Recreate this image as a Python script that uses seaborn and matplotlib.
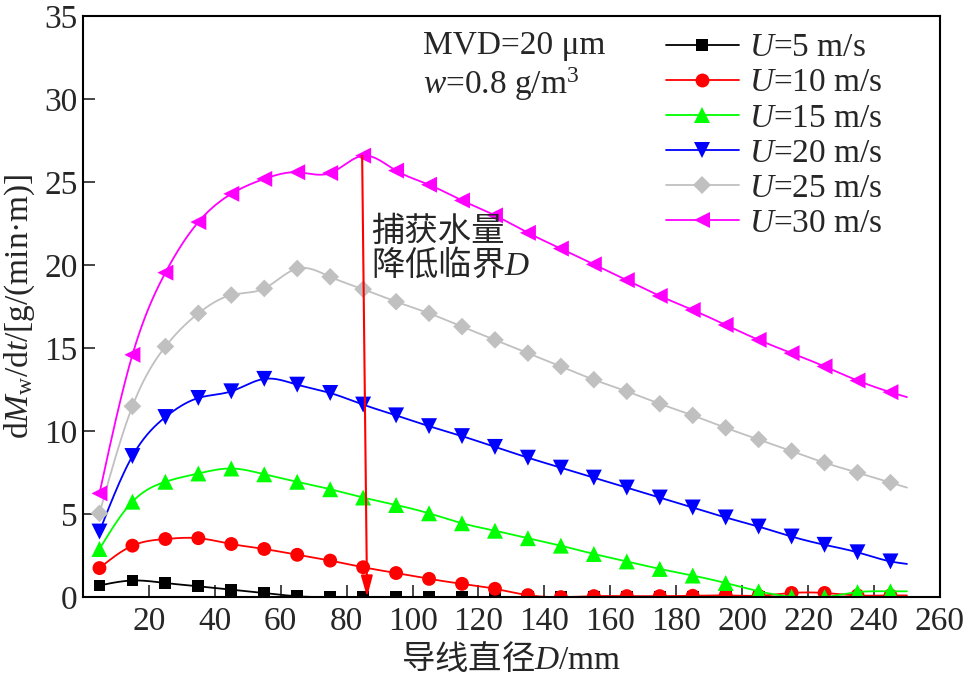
import numpy as np
import pandas as pd
import seaborn as sns
import matplotlib
matplotlib.use("Agg")
import matplotlib.pyplot as plt
from matplotlib.lines import Line2D

# ---------------- data ----------------
D = [5, 15, 25, 35, 45, 55, 65, 75, 85, 95, 105, 115, 125, 135, 145,
     155, 165, 175, 185, 195, 205, 215, 225, 235, 245, 250]

U5 = [0.7, 1.0, 0.85, 0.65, 0.45, 0.25, 0.05, 0.0, 0.0, 0.0, 0.0, 0.0, 0.0,
      0.0, 0.0, 0.0, 0.0, 0.0, 0.0, 0.0, 0.0, 0.0, 0.0, 0.0, 0.0, 0.0]
U10 = [1.75, 3.1, 3.5, 3.55, 3.2, 2.9, 2.55, 2.2, 1.8, 1.45, 1.1, 0.8, 0.5,
       0.12, 0.0, 0.06, 0.06, 0.06, 0.08, 0.1, 0.08, 0.25, 0.25, 0.1, 0.1, 0.1]
U15 = [2.9, 5.75, 6.95, 7.45, 7.75, 7.4, 6.95, 6.5, 6.0, 5.55, 5.05, 4.45, 4.0,
       3.55, 3.1, 2.6, 2.15, 1.7, 1.3, 0.85, 0.35, 0.02, 0.0, 0.3, 0.35, 0.35]
U20 = [3.95, 8.5, 10.85, 12.0, 12.4, 13.15, 12.8, 12.3, 11.6, 10.95, 10.3, 9.7,
       9.05, 8.4, 7.8, 7.2, 6.6, 6.0, 5.4, 4.8, 4.25, 3.65, 3.15, 2.7, 2.15, 2.0]
U25 = [5.05, 11.5, 15.1, 17.1, 18.2, 18.6, 19.8, 19.3, 18.55, 17.8, 17.1, 16.3,
       15.5, 14.7, 13.9, 13.1, 12.4, 11.65, 10.95, 10.2, 9.5, 8.8, 8.1, 7.5, 6.9, 6.6]
U30 = [6.25, 14.6, 19.55, 22.6, 24.3, 25.2, 25.6, 25.55, 26.6, 25.7, 24.85, 23.9,
       23.0, 21.95, 21.0, 20.05, 19.1, 18.15, 17.3, 16.4, 15.5, 14.7, 13.9, 13.05,
       12.35, 12.05]

labels = [r"$U$=5 m/s", r"$U$=10 m/s", r"$U$=15 m/s",
          r"$U$=20 m/s", r"$U$=25 m/s", r"$U$=30 m/s"]
xticks = [20, 40, 60, 80, 100, 120, 140, 160, 180, 200, 220, 240, 260]
yticks = [0, 5, 10, 15, 20, 25, 30, 35]

series = [U5, U10, U15, U20, U25, U30]
colors = ["#000000", "#FF0000", "#00FF00", "#0000FF", "#C0C0C0", "#FF00FF"]
markers = ["s", "o", "^", "v", "D", "<"]
msizes = [8.5, 10.0, 11.5, 11.5, 9.0, 11.5]


def natural_spline(x, y, per=20):
    x = np.asarray(x, float)
    y = np.asarray(y, float)
    n = len(x)
    h = np.diff(x)
    A = np.zeros((n, n))
    b = np.zeros(n)
    A[0, 0] = 1.0
    A[-1, -1] = 1.0
    for i in range(1, n - 1):
        A[i, i - 1] = h[i - 1]
        A[i, i] = 2 * (h[i - 1] + h[i])
        A[i, i + 1] = h[i]
        b[i] = 6 * ((y[i + 1] - y[i]) / h[i] - (y[i] - y[i - 1]) / h[i - 1])
    M = np.linalg.solve(A, b)
    xs, ys = [], []
    for i in range(n - 1):
        t = np.linspace(x[i], x[i + 1], per, endpoint=(i == n - 2))
        a = x[i + 1] - t
        c = t - x[i]
        s = (M[i] * a ** 3 + M[i + 1] * c ** 3) / (6 * h[i]) \
            + (y[i] / h[i] - M[i] * h[i] / 6) * a \
            + (y[i + 1] / h[i] - M[i + 1] * h[i] / 6) * c
        xs.append(t)
        ys.append(s)
    return np.concatenate(xs), np.concatenate(ys)


# ---------------- style ----------------
sns.set_style("ticks")
plt.rcParams["font.family"] = ["Liberation Serif", "Noto Sans CJK SC", "DejaVu Sans"]
plt.rcParams["mathtext.fontset"] = "custom"
plt.rcParams["mathtext.rm"] = "Liberation Serif"
plt.rcParams["mathtext.it"] = "Liberation Serif:italic"
plt.rcParams["mathtext.bf"] = "Liberation Serif:bold"
plt.rcParams["axes.unicode_minus"] = False

FS = 24

fig = plt.figure(figsize=(9.65, 6.77), dpi=100)
ax = fig.add_axes([0.086, 0.118, 0.888, 0.858])

for i, (vals, c, m, ms) in enumerate(zip(series, colors, markers, msizes)):
    xs, ys = natural_spline(D, vals)
    sns.lineplot(x=xs, y=ys, ax=ax, color=c, linewidth=1.3, sort=False,
                 estimator=None, legend=False, zorder=2 + 0.1 * i)
    sns.scatterplot(x=D[:-1], y=vals[:-1], ax=ax, marker=m, s=ms ** 2, color=c,
                    linewidth=0, edgecolor="none", legend=False, zorder=2.05 + 0.1 * i)

ax.set_xlim(0, 260)
ax.set_ylim(0, 35)
ax.set_xticks(xticks)
ax.set_yticks(yticks)
ax.set_xticklabels([str(v) for v in xticks])
ax.set_yticklabels([str(v) for v in yticks])
ax.tick_params(axis="both", direction="in", length=8.5, width=1.2,
               labelsize=FS, top=False, right=False)
ax.tick_params(axis="x", pad=7)
ax.tick_params(axis="y", pad=4)
for sp in ax.spines.values():
    sp.set_visible(True)
    sp.set_linewidth(1.5)
    sp.set_color("black")
ax.set_xlabel("")
ax.set_ylabel("")

# axis labels
ax.text(0.4995, -0.077, "导线直径$D/\\mathrm{mm}$", transform=ax.transAxes,
        ha="center", va="top", fontsize=FS, fontfamily="Noto Sans CJK SC")
fig.text(20 / 965, 1 - 306 / 677, r"d$M_{\mathrm{w}}$/d$t$/[g/(min·m)]",
         rotation=90, ha="center", va="center", fontsize=FS)

# annotations
ax.text(0.397, 0.975, "MVD=20 μm", transform=ax.transAxes, ha="left", va="top",
        fontsize=FS)
ax.text(0.397, 0.915, r"$w$=0.8 g/m$^3$", transform=ax.transAxes, ha="left",
        va="top", fontsize=FS)

ax.text(87.5, 23.1, "捕获水量\n降低临界$D$", ha="left", va="top", fontsize=FS,
        fontfamily="Noto Sans CJK SC", linespacing=0.95)

ax.annotate("", xy=(86.2, 0.0), xytext=(84.7, 26.6),
            arrowprops=dict(arrowstyle="-|>,head_length=0.8,head_width=0.22",
                            color="#FF0000", lw=1.5, mutation_scale=16,
                            shrinkA=0, shrinkB=0), zorder=5)

# legend
handles = [Line2D([0], [0], color=c, marker=m, markersize=ms, lw=1.3,
                  markeredgewidth=0)
           for c, m, ms in zip(colors, markers, msizes)]
ax.legend(handles, labels, loc="upper left", bbox_to_anchor=(0.672, 0.983),
          frameon=False, fontsize=FS, handlelength=2.2, handletextpad=0.3,
          labelspacing=0.14, borderaxespad=0, borderpad=0.2)

fig.savefig("out.png", dpi=100)
